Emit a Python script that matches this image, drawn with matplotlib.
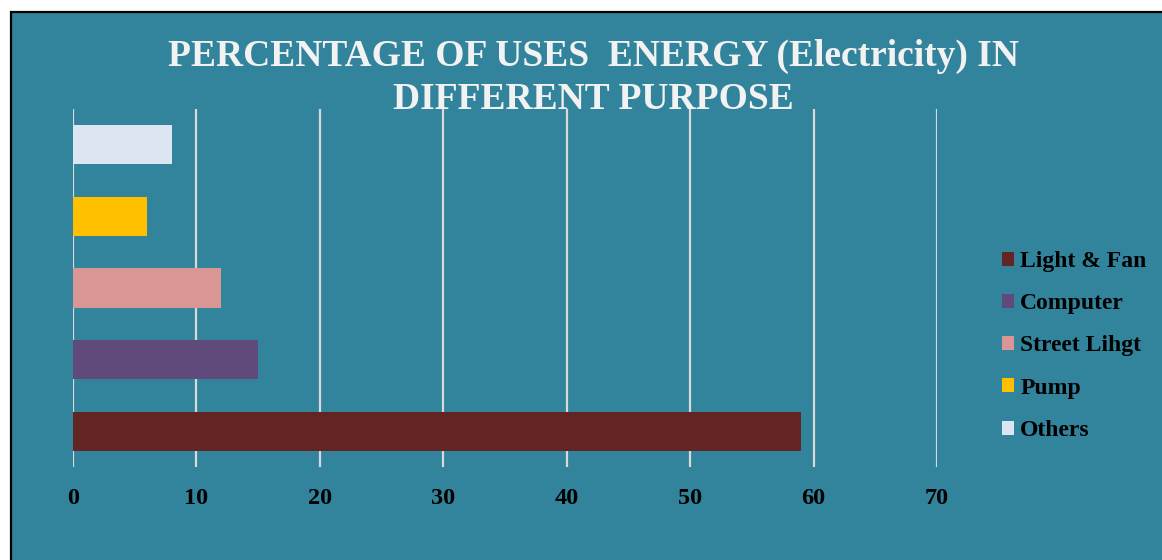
import matplotlib.pyplot as plt
from matplotlib.patches import Rectangle

# share of electricity use per purpose (%)
purposes = ["Light & Fan", "Computer", "Street Lihgt", "Pump", "Others"]
shares = [59, 15, 12, 6, 8]
colors = ["#632523", "#604A7B", "#D99694", "#FFC000", "#DCE6F2"]
x_ticks = [0, 10, 20, 30, 40, 50, 60, 70]

title = "PERCENTAGE OF USES  ENERGY (Electricity) IN\nDIFFERENT PURPOSE"

plt.rcParams["font.family"] = ["Liberation Serif", "DejaVu Serif"]
plt.rcParams["font.weight"] = "bold"

W, H = 1162, 560
fig = plt.figure(figsize=(W / 100, H / 100), dpi=100, facecolor="white")

# teal chart area with a thin black frame on top/left
bg = Rectangle((10.5 / W, -0.05), 1.1, (H - 11.5) / H + 0.05, transform=fig.transFigure,
               facecolor="#31849B", edgecolor="black", linewidth=1.6, zorder=-10)
fig.patches.append(bg)

ax = fig.add_axes([73 / W, (H - 467) / H, (937 - 73) / W, (467 - 109) / H])
ax.set_facecolor("none")

for i, (name, val, c) in enumerate(zip(purposes, shares, colors)):
    ax.barh(i, val, height=0.55, color=c, label=name, zorder=2)

ax.set_xlim(0, 70)
ax.set_ylim(-0.5, 4.5)
ax.set_xticks(x_ticks)
ax.set_yticks([])
ax.grid(axis="x", color="#D9D9D9", linewidth=1.6)
ax.set_axisbelow(True)
for s in ax.spines.values():
    s.set_visible(False)
ax.tick_params(axis="x", length=0, pad=15, labelsize=17.5, labelcolor="black")
for lbl in ax.get_xticklabels():
    lbl.set_fontweight("bold")

fig.text(593 / W, (H - 78) / H, title, ha="center", va="center", fontsize=27,
         fontweight="bold", color="#F2F2F2", linespacing=1.32)

leg = ax.legend(loc="center left", bbox_to_anchor=(1002 / W, (H - 346) / H),
                bbox_transform=fig.transFigure, frameon=False, fontsize=17,
                handlelength=0.52, handleheight=0.52, handletextpad=0.25,
                labelspacing=0.9, borderpad=0, borderaxespad=0)
for t in leg.get_texts():
    t.set_fontweight("bold")

fig.savefig("out.png", dpi=100, facecolor="white")
